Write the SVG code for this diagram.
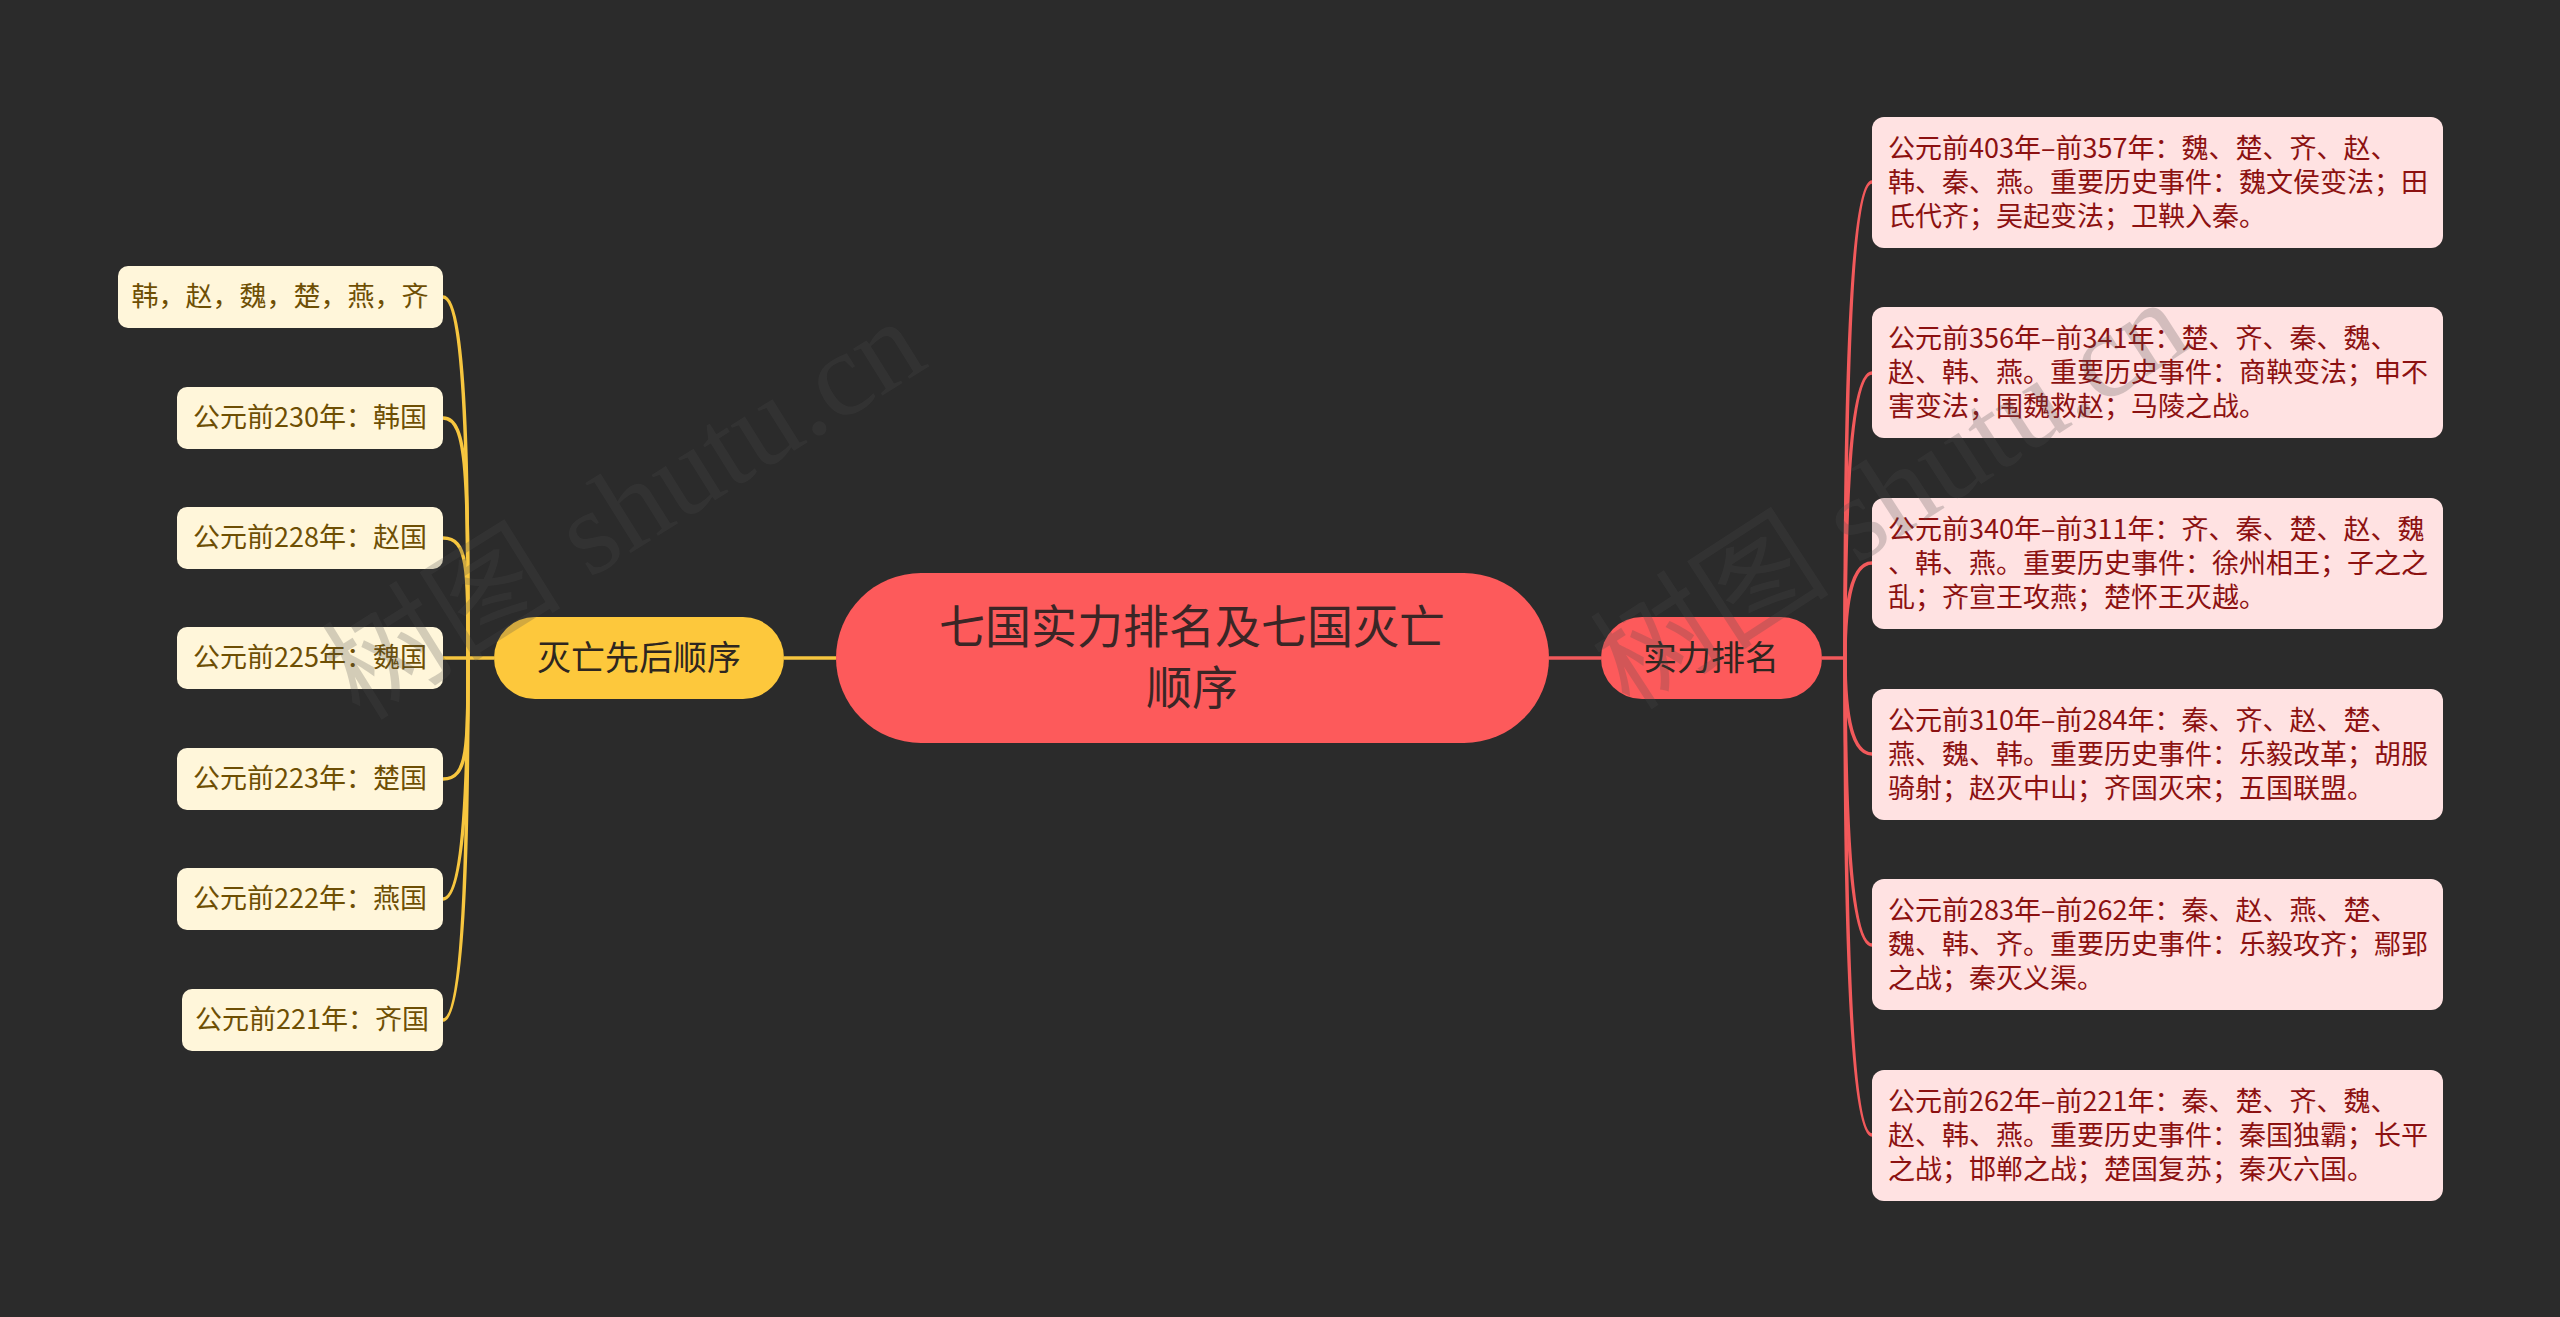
<svg xmlns="http://www.w3.org/2000/svg" width="2560" height="1317" viewBox="0 0 2560 1317">
<style>
.bg{fill:#2b2b2b}
.t{font-family:"Noto Sans CJK SC","Noto Sans",sans-serif}
.root rect{fill:#fd5a5b}
.root text{font-size:46px;fill:#3a2626;text-anchor:middle}
.main-y rect{fill:#fdc83c}
.main-r rect{fill:#fd5a5b}
.main text{font-size:34px;fill:#2e2620;text-anchor:middle}
.ly rect{fill:#fff6da}
.ly text{font-size:27px;fill:#6e4f04;text-anchor:middle}
.lr rect{fill:#ffe2e2}
.lr text{font-size:27px;fill:#8c1111}
.cy{fill:none;stroke:#f7c63f;stroke-width:3.5}
.cr{fill:none;stroke:#f2595b;stroke-width:3.5}
.wm{font-family:"Liberation Serif","Noto Sans CJK SC",serif;font-size:120px;fill:#4c4c4c;opacity:0.24}
</style>
<rect class="bg" x="0" y="0" width="2560" height="1317"/>

<g id="connectors">
  <path class="cy" d="M784,658 H836"/>
  <path class="cy" d="M494,658 H468"/>
  <path class="cy" d="M468,658 C468,518 468,297 443,297"/>
  <path class="cy" d="M468,658 C468,478 468,418 443,418"/>
  <path class="cy" d="M468,658 C468,568 468,538 443,538"/>
  <path class="cy" d="M468,658 H443"/>
  <path class="cy" d="M468,658 C468,748 468,779 443,779"/>
  <path class="cy" d="M468,658 C468,718 468,899 443,899"/>
  <path class="cy" d="M468,658 C468,748 468,1020 443,1020"/>
  <path class="cr" d="M1549,658 H1601"/>
  <path class="cr" d="M1822,658 H1845"/>
  <path class="cr" d="M1845,658 C1845,539 1845,182 1872,182"/>
  <path class="cr" d="M1845,658 C1845,587 1845,373 1872,373"/>
  <path class="cr" d="M1845,658 C1845,634 1845,563 1872,563"/>
  <path class="cr" d="M1845,658 C1845,682 1845,754 1872,754"/>
  <path class="cr" d="M1845,658 C1845,730 1845,945 1872,945"/>
  <path class="cr" d="M1845,658 C1845,777 1845,1135 1872,1135"/>
</g>

<g id="root" class="root t">
  <rect x="836" y="573" width="713" height="170" rx="85"/>
  <text x="1192" y="643">七国实力排名及七国灭亡</text>
  <text x="1192" y="704">顺序</text>
</g>

<g id="main-left" class="main main-y t">
  <rect x="494" y="617" width="290" height="82" rx="41"/>
  <text x="639" y="670">灭亡先后顺序</text>
</g>

<g id="main-right" class="main main-r t">
  <rect x="1601" y="617" width="221" height="82" rx="41"/>
  <text x="1711" y="670">实力排名</text>
</g>

<g id="l1" class="ly t"><rect x="118" y="266" width="325" height="62" rx="10"/><text x="280" y="306">韩，赵，魏，楚，燕，齐</text></g>
<g id="l2" class="ly t"><rect x="177" y="387" width="266" height="62" rx="10"/><text x="310" y="427">公元前230年：韩国</text></g>
<g id="l3" class="ly t"><rect x="177" y="507" width="266" height="62" rx="10"/><text x="310" y="547">公元前228年：赵国</text></g>
<g id="l4" class="ly t"><rect x="177" y="627" width="266" height="62" rx="10"/><text x="310" y="667">公元前225年：魏国</text></g>
<g id="l5" class="ly t"><rect x="177" y="748" width="266" height="62" rx="10"/><text x="310" y="788">公元前223年：楚国</text></g>
<g id="l6" class="ly t"><rect x="177" y="868" width="266" height="62" rx="10"/><text x="310" y="908">公元前222年：燕国</text></g>
<g id="l7" class="ly t"><rect x="182" y="989" width="261" height="62" rx="10"/><text x="312" y="1029">公元前221年：齐国</text></g>

<g id="r1" class="lr t"><rect x="1872" y="117" width="571" height="131" rx="12"/>
  <text x="1888" y="158">公元前403年–前357年：魏、楚、齐、赵、</text>
  <text x="1888" y="192">韩、秦、燕。重要历史事件：魏文侯变法；田</text>
  <text x="1888" y="226">氏代齐；吴起变法；卫鞅入秦。</text></g>
<g id="r2" class="lr t"><rect x="1872" y="307" width="571" height="131" rx="12"/>
  <text x="1888" y="348">公元前356年–前341年：楚、齐、秦、魏、</text>
  <text x="1888" y="382">赵、韩、燕。重要历史事件：商鞅变法；申不</text>
  <text x="1888" y="416">害变法；围魏救赵；马陵之战。</text></g>
<g id="r3" class="lr t"><rect x="1872" y="498" width="571" height="131" rx="12"/>
  <text x="1888" y="539">公元前340年–前311年：齐、秦、楚、赵、魏</text>
  <text x="1888" y="573">、韩、燕。重要历史事件：徐州相王；子之之</text>
  <text x="1888" y="607">乱；齐宣王攻燕；楚怀王灭越。</text></g>
<g id="r4" class="lr t"><rect x="1872" y="689" width="571" height="131" rx="12"/>
  <text x="1888" y="730">公元前310年–前284年：秦、齐、赵、楚、</text>
  <text x="1888" y="764">燕、魏、韩。重要历史事件：乐毅改革；胡服</text>
  <text x="1888" y="798">骑射；赵灭中山；齐国灭宋；五国联盟。</text></g>
<g id="r5" class="lr t"><rect x="1872" y="879" width="571" height="131" rx="12"/>
  <text x="1888" y="920">公元前283年–前262年：秦、赵、燕、楚、</text>
  <text x="1888" y="954">魏、韩、齐。重要历史事件：乐毅攻齐；鄢郢</text>
  <text x="1888" y="988">之战；秦灭义渠。</text></g>
<g id="r6" class="lr t"><rect x="1872" y="1070" width="571" height="131" rx="12"/>
  <text x="1888" y="1111">公元前262年–前221年：秦、楚、齐、魏、</text>
  <text x="1888" y="1145">赵、韩、燕。重要历史事件：秦国独霸；长平</text>
  <text x="1888" y="1179">之战；邯郸之战；楚国复苏；秦灭六国。</text></g>

<g id="watermarks">
  <text class="wm" transform="translate(360,722) rotate(-32)">树图 shutu.cn</text>
  <text class="wm" transform="translate(1630,712) rotate(-33)">树图 shutu.cn</text>
</g>
</svg>
